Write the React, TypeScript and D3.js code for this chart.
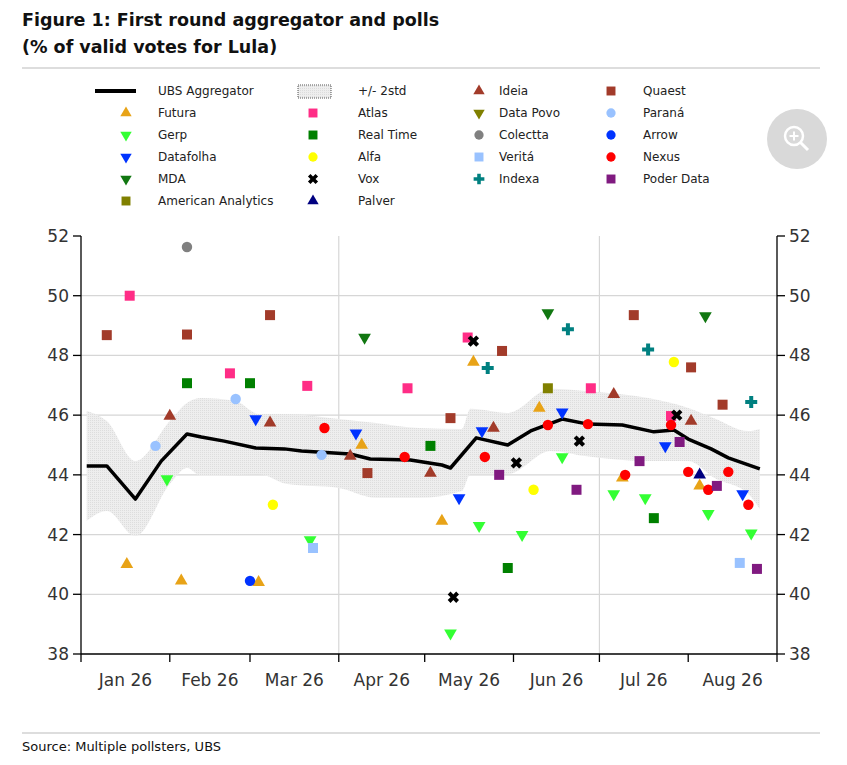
import React from "react";
import * as d3 from "d3";

// ---------- DATA ----------
const aggDates = ["2026-01-03","2026-01-10","2026-01-20","2026-01-29","2026-02-07","2026-02-12","2026-02-20","2026-03-03","2026-03-13","2026-03-19","2026-04-05","2026-04-12","2026-04-26","2026-05-07","2026-05-10","2026-05-19","2026-05-30","2026-06-07","2026-06-18","2026-06-27","2026-07-09","2026-07-20","2026-07-27","2026-08-01","2026-08-09","2026-08-15","2026-08-26"];
const aggValues = [44.3,44.3,43.19,44.46,45.37,45.27,45.13,44.9,44.87,44.8,44.7,44.53,44.5,44.33,44.23,45.24,45.0,45.47,45.87,45.7,45.67,45.44,45.5,45.2,44.87,44.57,44.2];

const bandDates = ["2026-01-03","2026-01-10","2026-01-20","2026-02-01","2026-02-07","2026-02-12","2026-02-24","2026-03-04","2026-03-14","2026-04-01","2026-04-14","2026-04-29","2026-05-14","2026-05-17","2026-05-30","2026-06-14","2026-06-26","2026-07-18","2026-08-01","2026-08-10","2026-08-22","2026-08-26"];
const bandUpper = [46.14,45.8,44.46,45.8,46.41,46.57,46.47,46.04,46.04,45.87,45.74,45.57,45.54,46.21,46.07,46.88,46.81,46.57,46.24,45.9,45.47,45.54];
const bandLower = [42.46,42.79,41.95,43.69,44.23,43.96,43.99,44.03,43.69,43.56,43.23,43.23,43.46,44.03,44.03,44.8,44.63,44.46,44.46,43.9,43.36,42.86];

type P = [string, number];
const quaest: P[] = [["2026-01-10",48.68],["2026-02-07",48.7],["2026-03-08",49.35],["2026-04-11",44.06],["2026-05-10",45.9],["2026-05-28",48.15],["2026-07-13",49.35],["2026-08-02",47.6],["2026-08-13",46.35]];
const atlas: P[] = [["2026-01-18",50.0],["2026-02-22",47.4],["2026-03-21",46.98],["2026-04-25",46.9],["2026-05-16",48.6],["2026-06-28",46.9],["2026-07-26",45.97]];
const realTime: P[] = [["2026-02-07",47.07],["2026-03-01",47.07],["2026-05-03",44.97],["2026-05-30",40.88],["2026-07-20",42.55]];
const alfa: P[] = [["2026-03-09",43.0],["2026-06-08",43.5],["2026-07-27",47.78]];
const vox: P[] = [["2026-05-18",48.48],["2026-05-11",39.9],["2026-06-02",44.4],["2026-06-24",45.13],["2026-07-28",46.0]];
const palver: P[] = [["2026-08-05",44.0]];
const ideia: P[] = [["2026-02-01",45.97],["2026-03-08",45.74],["2026-04-05",44.63],["2026-05-03",44.06],["2026-05-25",45.57],["2026-07-06",46.7],["2026-08-02",45.8]];
const dataPovo: P[] = [];
const colectta: P[] = [["2026-02-07",51.63]];
const verita: P[] = [["2026-03-23",41.55],["2026-08-19",41.05]];
const indexa: P[] = [["2026-05-23",47.58],["2026-06-20",48.88],["2026-07-18",48.2],["2026-08-23",46.44]];
const parana: P[] = [["2026-01-27",44.97],["2026-02-24",46.54],["2026-03-26",44.67]];
const arrow: P[] = [["2026-03-01",40.45]];
const nexus: P[] = [["2026-03-27",45.57],["2026-04-24",44.6],["2026-05-22",44.6],["2026-06-13",45.67],["2026-06-27",45.7],["2026-07-10",44.0],["2026-07-26",45.67],["2026-08-01",44.1],["2026-08-08",43.5],["2026-08-15",44.1],["2026-08-22",43.0]];
const poderData: P[] = [["2026-05-27",44.0],["2026-06-23",43.5],["2026-07-15",44.46],["2026-07-29",45.1],["2026-08-11",43.63],["2026-08-25",40.85]];
const futura: P[] = [["2026-01-17",41.0],["2026-02-05",40.45],["2026-03-04",40.4],["2026-04-09",45.0],["2026-05-07",42.45],["2026-05-18",47.78],["2026-06-10",46.24],["2026-07-09",43.9],["2026-08-05",43.63]];
const gerp: P[] = [["2026-01-31",43.86],["2026-03-22",41.82],["2026-05-10",38.7],["2026-05-20",42.3],["2026-06-04",42.0],["2026-06-18",44.6],["2026-07-06",43.36],["2026-07-17",43.23],["2026-08-08",42.7],["2026-08-23",42.05]];
const datafolha: P[] = [["2026-03-03",45.87],["2026-04-07",45.4],["2026-05-13",43.23],["2026-05-21",45.47],["2026-06-18",46.1],["2026-07-24",44.97],["2026-08-20",43.36]];
const mda: P[] = [["2026-04-10",48.6],["2026-06-13",49.42],["2026-08-07",49.32]];
const americanAnalytics: P[] = [["2026-06-13",46.9]];

const yTicks = [38, 40, 42, 44, 46, 48, 50, 52];
const monthLabels = ["Jan 26","Feb 26","Mar 26","Apr 26","May 26","Jun 26","Jul 26","Aug 26"];

type Shape = "up" | "down" | "square" | "circle" | "plus" | "x";
const series: { name: string; color: string; shape: Shape; data: P[] }[] = [
  { name: "Futura", color: "#E8A317", shape: "up", data: futura },
  { name: "Gerp", color: "#33FF33", shape: "down", data: gerp },
  { name: "Datafolha", color: "#0033FF", shape: "down", data: datafolha },
  { name: "MDA", color: "#117711", shape: "down", data: mda },
  { name: "American Analytics", color: "#808000", shape: "square", data: americanAnalytics },
  { name: "Atlas", color: "#FF2D86", shape: "square", data: atlas },
  { name: "Real Time", color: "#008000", shape: "square", data: realTime },
  { name: "Alfa", color: "#FFFF00", shape: "circle", data: alfa },
  { name: "Vox", color: "#000000", shape: "x", data: vox },
  { name: "Palver", color: "#000080", shape: "up", data: palver },
  { name: "Ideia", color: "#A23B2A", shape: "up", data: ideia },
  { name: "Data Povo", color: "#808000", shape: "down", data: dataPovo },
  { name: "Colectta", color: "#808080", shape: "circle", data: colectta },
  { name: "Veritá", color: "#99C2FF", shape: "square", data: verita },
  { name: "Indexa", color: "#008080", shape: "plus", data: indexa },
  { name: "Quaest", color: "#A23B2A", shape: "square", data: quaest },
  { name: "Paraná", color: "#99C2FF", shape: "circle", data: parana },
  { name: "Arrow", color: "#0033FF", shape: "circle", data: arrow },
  { name: "Nexus", color: "#FF0000", shape: "circle", data: nexus },
  { name: "Poder Data", color: "#801A80", shape: "square", data: poderData },
];

const legendPos: [number, number][] = [
  [0,1],[0,2],[0,3],[0,4],[0,5],
  [1,1],[1,2],[1,3],[1,4],[1,5],
  [2,0],[2,1],[2,2],[2,3],[2,4],
  [3,0],[3,1],[3,2],[3,3],[3,4],
];

const parse = d3.timeParse("%Y-%m-%d");

function symPath(shape: Shape, size = 1): string {
  const base: Record<Shape, number> = { up: 70, down: 70, square: 100, circle: 85, plus: 80, x: 80 };
  const t: Record<Shape, d3.SymbolType> = {
    up: d3.symbolTriangle, down: d3.symbolTriangle, square: d3.symbolSquare,
    circle: d3.symbolCircle, plus: d3.symbolCross, x: d3.symbolCross,
  };
  return d3.symbol().type(t[shape]).size(base[shape] * size)()!;
}

function Marker({ shape, color, x, y, scale = 1 }: { shape: Shape; color: string; x: number; y: number; scale?: number }) {
  const rot = shape === "down" ? 180 : shape === "x" ? 45 : 0;
  return <path d={symPath(shape, scale)} fill={color} transform={`translate(${x},${y}) rotate(${rot})`} />;
}

export default function App() {
  const W = 847, H = 765;
  const x0 = 81, x1 = 777, yTop = 236, yBot = 654;
  const x = d3.scaleTime().domain([new Date(2026, 0, 1), new Date(2026, 8, 1)]).range([x0, x1]);
  const y = d3.scaleLinear().domain([38, 52]).range([yBot, yTop]);
  const months = d3.timeMonth.range(new Date(2026, 0, 1), new Date(2026, 8, 2));

  const line = d3.line<number>().x((_, i) => x(parse(aggDates[i])!)).y(v => y(v)).curve(d3.curveLinear);
  const area = d3.area<number>()
    .x((_, i) => x(parse(bandDates[i])!))
    .y0((_, i) => y(bandLower[i]))
    .y1(v => y(v))
    .curve(d3.curveMonotoneX);

  const font = "DejaVu Sans, Verdana, sans-serif";
  const colX = [126, 313, 479, 611];
  const textX = [158, 358, 499, 643];
  const rowY = (r: number) => 91 + r * 22;

  return (
    <svg width={W} height={H} style={{ position: "absolute", left: 0, top: 0, background: "#fff" }} fontFamily={font}>
      <defs>
        <pattern id="dots" width="2" height="2" patternUnits="userSpaceOnUse">
          <rect width="2" height="2" fill="#eeeeee" />
          <rect width="1" height="1" fill="#dddddd" />
        </pattern>
      </defs>
      <text x={22} y={26} fontSize={17.5} fontWeight="bold" fill="#111">Figure 1: First round aggregator and polls</text>
      <text x={22} y={53} fontSize={17.5} fontWeight="bold" fill="#111">(% of valid votes for Lula)</text>
      <line x1={22} x2={820} y1={68} y2={68} stroke="#bbb" />

      <line x1={95} x2={136} y1={rowY(0)} y2={rowY(0)} stroke="#000" strokeWidth={4} />
      <text x={textX[0]} y={rowY(0) + 4} fontSize={12} fill="#222">UBS Aggregator</text>
      <rect x={298} y={rowY(0) - 6} width={33} height={13} fill="url(#dots)" stroke="#555" strokeDasharray="1,1" />
      <text x={textX[1]} y={rowY(0) + 4} fontSize={12} fill="#222">+/- 2std</text>
      {series.map((s, i) => {
        const [c, r] = legendPos[i];
        return (
          <g key={s.name}>
            <Marker shape={s.shape} color={s.color} x={colX[c]} y={rowY(r)} scale={0.8} />
            <text x={textX[c]} y={rowY(r) + 4} fontSize={12} fill="#222">{s.name}</text>
          </g>
        );
      })}

      <circle cx={797} cy={139} r={30} fill="#d9d9d9" />
      <circle cx={794} cy={136} r={9} fill="none" stroke="#fff" strokeWidth={2.5} />
      <line x1={800.5} y1={142.5} x2={808} y2={150} stroke="#fff" strokeWidth={3} />
      <line x1={789.5} y1={136} x2={798.5} y2={136} stroke="#fff" strokeWidth={2} />
      <line x1={794} y1={131.5} x2={794} y2={140.5} stroke="#fff" strokeWidth={2} />

      {yTicks.filter(t => t > 38 && t < 52).map(t => (
        <line key={t} x1={x0} x2={x1} y1={y(t)} y2={y(t)} stroke="#d6d6d6" strokeWidth={1.2} />
      ))}
      {[new Date(2026, 3, 1), new Date(2026, 6, 1)].map((d, i) => (
        <line key={i} x1={x(d)} x2={x(d)} y1={yTop} y2={yBot} stroke="#d6d6d6" strokeWidth={1.2} />
      ))}

      <path d={area(bandUpper)!} fill="url(#dots)" />
      <path d={line(aggValues)!} fill="none" stroke="#000" strokeWidth={3.5} strokeLinejoin="round" />

      {series.map(s => s.data.map((p, j) => (
        <Marker key={s.name + j} shape={s.shape} color={s.color} x={x(parse(p[0])!)} y={y(p[1])} />
      )))}

      <line x1={x0} x2={x0} y1={yTop} y2={yBot} stroke="#000" strokeWidth={1.3} />
      <line x1={x1} x2={x1} y1={yTop} y2={yBot} stroke="#000" strokeWidth={1.3} />
      <line x1={x0} x2={x1} y1={yBot} y2={yBot} stroke="#000" strokeWidth={1.3} />
      {yTicks.map(t => (
        <g key={t}>
          <line x1={x0 - 8} x2={x0} y1={y(t)} y2={y(t)} stroke="#000" strokeWidth={1.3} />
          <line x1={x1} x2={x1 + 8} y1={y(t)} y2={y(t)} stroke="#000" strokeWidth={1.3} />
          <text x={x0 - 12} y={y(t) + 6} textAnchor="end" fontSize={17} fill="#333">{t}</text>
          <text x={x1 + 12} y={y(t) + 6} textAnchor="start" fontSize={17} fill="#333">{t}</text>
        </g>
      ))}
      {months.map((m, i) => (
        <line key={i} x1={x(m)} x2={x(m)} y1={yBot} y2={yBot + 8} stroke="#000" strokeWidth={1.3} />
      ))}
      {monthLabels.map((lab, i) => {
        const xm = (x(months[i]) + x(months[i + 1])) / 2;
        return <text key={lab} x={xm} y={686} textAnchor="middle" fontSize={17} fill="#333">{lab}</text>;
      })}

      <line x1={22} x2={820} y1={733} y2={733} stroke="#bbb" />
      <text x={22} y={751} fontSize={13} fill="#111">Source: Multiple pollsters, UBS</text>
    </svg>
  );
}
